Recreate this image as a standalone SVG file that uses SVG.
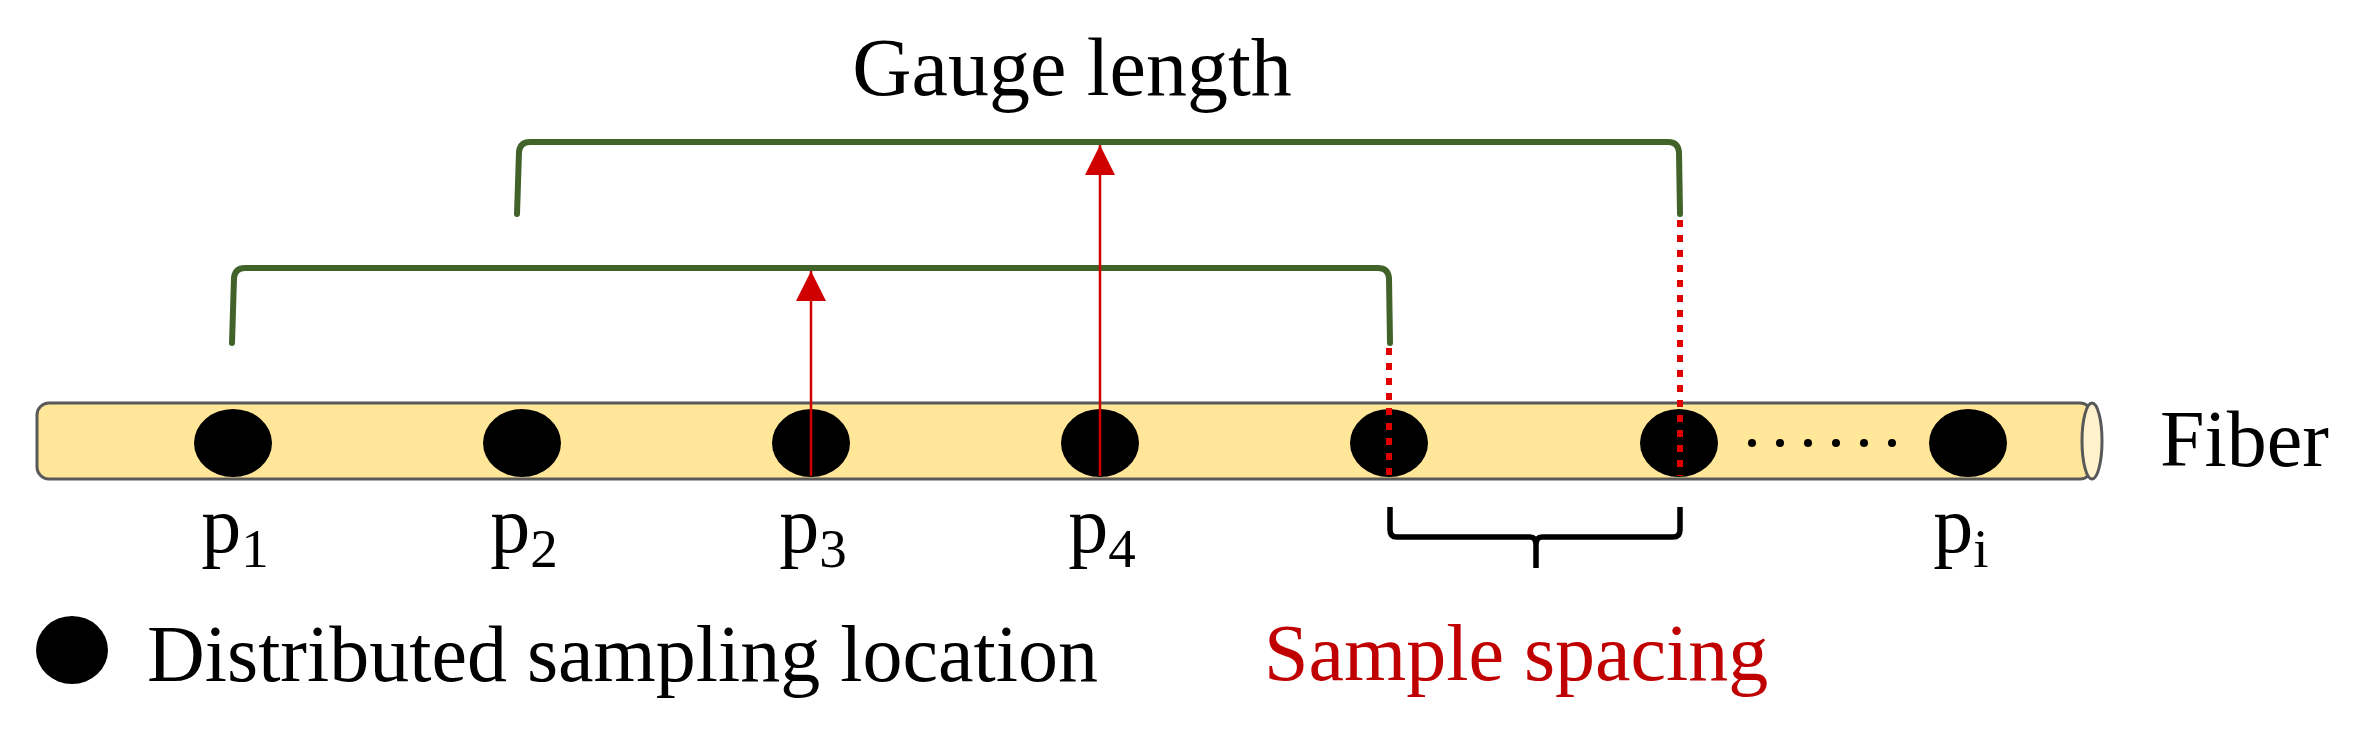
<svg xmlns="http://www.w3.org/2000/svg" width="2360" height="739" viewBox="0 0 2360 739">
<defs>
<style>
.t{font-family:"Liberation Serif","Times New Roman",serif;font-size:80px;fill:#000}
.sub{font-size:55px}
.red{fill:#C00000}
.dot{fill:#000}
.br{fill:none;stroke:#41632A;stroke-width:6;stroke-linecap:round;stroke-linejoin:round}
.dash{fill:none;stroke:#E00000;stroke-width:6;stroke-dasharray:7 8}
.arr{stroke:#D00000;stroke-width:2.5;fill:none}
</style>
<marker id="ah" viewBox="0 0 10 10" refX="10" refY="5" markerUnits="userSpaceOnUse" markerWidth="30" markerHeight="30" orient="auto">
<path d="M0,0 L10,5 L0,10 Z" fill="#D00000"/>
</marker>
</defs>
<rect width="2360" height="739" fill="#fff"/>
<g id="title"><text class="t" x="1072" y="95" text-anchor="middle" style="font-size:82px">Gauge length</text></g>
<g id="fiber">
<rect x="37" y="403" width="2055" height="76" rx="12" ry="12" fill="#FFE699" stroke="#595959" stroke-width="3"/>
<ellipse cx="2092" cy="441" rx="10" ry="38" fill="#FFF2CC" stroke="#595959" stroke-width="3"/>
<text class="t" x="2160" y="466">Fiber</text>
</g>
<g id="points">
<ellipse class="dot" cx="233" cy="443" rx="39" ry="34"/>
<ellipse class="dot" cx="522" cy="443" rx="39" ry="34"/>
<ellipse class="dot" cx="811" cy="443" rx="39" ry="34"/>
<ellipse class="dot" cx="1100" cy="443" rx="39" ry="34"/>
<ellipse class="dot" cx="1389" cy="443" rx="39" ry="34"/>
<ellipse class="dot" cx="1679" cy="443" rx="39" ry="34"/>
<ellipse class="dot" cx="1968" cy="443" rx="39" ry="34"/>
<circle class="dot" cx="1752" cy="443" r="4"/>
<circle class="dot" cx="1780" cy="443" r="4"/>
<circle class="dot" cx="1808" cy="443" r="4"/>
<circle class="dot" cx="1836" cy="443" r="4"/>
<circle class="dot" cx="1864" cy="443" r="4"/>
<circle class="dot" cx="1892" cy="443" r="4"/>
</g>
<g id="labels">
<text class="t" x="235" y="552" text-anchor="middle">p<tspan class="sub" dy="15">1</tspan></text>
<text class="t" x="524" y="552" text-anchor="middle">p<tspan class="sub" dy="15">2</tspan></text>
<text class="t" x="813" y="552" text-anchor="middle">p<tspan class="sub" dy="15">3</tspan></text>
<text class="t" x="1102" y="552" text-anchor="middle">p<tspan class="sub" dy="15">4</tspan></text>
<text class="t" x="1961" y="552" text-anchor="middle">p<tspan class="sub" dy="15">i</tspan></text>
</g>
<g id="legend">
<ellipse class="dot" cx="72" cy="650" rx="36" ry="34"/>
<text class="t" x="147" y="681">Distributed sampling location</text>
</g>
<g id="sample-spacing">
<path d="M1390,507 L1390,530 Q1390,537 1397,537 L1530,537 Q1536,537 1536,545 L1536,568 M1536,545 Q1536,537 1542,537 L1673,537 Q1680,537 1680,530 L1680,507" fill="none" stroke="#000" stroke-width="5.5"/>
<text class="t red" x="1264" y="680">Sample spacing</text>
</g>
<g id="connectors">
<path class="br" d="M232,343 L234,278 Q235,268 245,268 L1378,268 Q1388,268 1389,278 L1390,343"/>
<path class="br" d="M517,214 L519,152 Q520,142 530,142 L1668,142 Q1678,142 1679,152 L1680,214"/>
<line class="dash" x1="1389" y1="348" x2="1389" y2="476"/>
<line class="dash" x1="1680" y1="220" x2="1680" y2="476"/>
<line class="arr" x1="811" y1="476" x2="811" y2="271" marker-end="url(#ah)"/>
<line class="arr" x1="1100" y1="476" x2="1100" y2="145" marker-end="url(#ah)"/>
</g>
</svg>
